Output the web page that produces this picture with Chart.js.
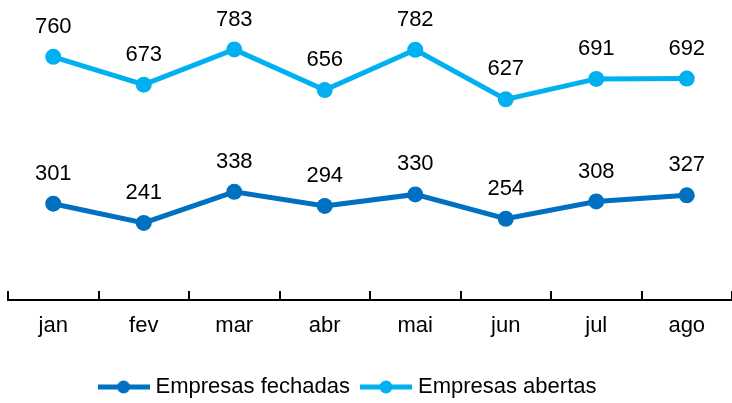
<!DOCTYPE html>
<html>
<head>
<meta charset="utf-8">
<script src="https://cdn.jsdelivr.net/npm/chart.js@4.4.1/dist/chart.umd.min.js"></script>
<style>
    html, body { margin: 0; padding: 0; background: #fff; overflow: hidden; }
    #wrap { position: relative; width: 740px; height: 403px; }
</style>
</head>
<body>
<div id="wrap"><canvas id="chart"></canvas></div>
<script>
const months = ['jan', 'fev', 'mar', 'abr', 'mai', 'jun', 'jul', 'ago'];
const fechadas = [301, 241, 338, 294, 330, 254, 308, 327];
const abertas = [760, 673, 783, 656, 782, 627, 691, 692];
const seriesNames = ['Empresas fechadas', 'Empresas abertas'];
const seriesColors = ['#0070C0', '#00B0F0'];
const yMin = 0;
const yMax = 900;

const FONT = '"Liberation Sans", Arial, sans-serif';

// small line + dot icon for the legend
function legendIcon(color) {
    const c = document.createElement('canvas');
    c.width = 52;
    c.height = 16;
    const g = c.getContext('2d');
    g.strokeStyle = color;
    g.lineWidth = 5;
    g.beginPath();
    g.moveTo(0, 8);
    g.lineTo(52, 8);
    g.stroke();
    g.fillStyle = color;
    g.beginPath();
    g.arc(26, 8, 6.5, 0, Math.PI * 2);
    g.fill();
    return c;
}
const icons = seriesColors.map(legendIcon);

// value labels above each point
const valueLabels = {
    id: 'valueLabels',
    afterDatasetsDraw(chart) {
        const ctx = chart.ctx;
        ctx.save();
        ctx.font = '22px ' + FONT;
        ctx.fillStyle = '#000';
        ctx.textAlign = 'center';
        ctx.textBaseline = 'middle';
        chart.data.datasets.forEach((ds, i) => {
            chart.getDatasetMeta(i).data.forEach((pt, j) => {
                ctx.fillText(String(ds.data[j]), pt.x, pt.y - 30);
            });
        });
        ctx.restore();
    }
};

// nudge the legend to sit where the original one is
const legendShift = {
    id: 'legendShift',
    afterLayout(chart) {
        const lg = chart.legend;
        if (lg) {
            lg.left -= 23;
            lg.right -= 23;
            lg.top += 11;
            lg.bottom += 11;
        }
    }
};

new Chart(document.getElementById('chart'), {
    type: 'line',
    data: {
        labels: months,
        datasets: [
            {
                label: seriesNames[0],
                data: fechadas,
                borderColor: seriesColors[0],
                backgroundColor: seriesColors[0],
                borderWidth: 5,
                pointRadius: 8,
                pointBorderWidth: 0,
                pointBackgroundColor: seriesColors[0],
                tension: 0
            },
            {
                label: seriesNames[1],
                data: abertas,
                borderColor: seriesColors[1],
                backgroundColor: seriesColors[1],
                borderWidth: 5,
                pointRadius: 8,
                pointBorderWidth: 0,
                pointBackgroundColor: seriesColors[1],
                tension: 0
            }
        ]
    },
    options: {
        responsive: true,
        maintainAspectRatio: false,
        animation: false,
        devicePixelRatio: 1,
        layout: { padding: { top: 12, left: 8, right: 3, bottom: 6 } },
        scales: {
            x: {
                offset: true,
                grid: {
                    offset: true,
                    drawOnChartArea: false,
                    drawTicks: true,
                    tickLength: -9,
                    color: '#000',
                    lineWidth: 2
                },
                border: { display: true, color: '#000', width: 2 },
                ticks: {
                    padding: 22,
                    color: '#000',
                    font: { family: FONT, size: 22 }
                },
                afterFit(scale) { scale.height = 50; }
            },
            y: {
                display: false,
                min: yMin,
                max: yMax
            }
        },
        plugins: {
            tooltip: { enabled: false },
            legend: {
                position: 'bottom',
                labels: {
                    usePointStyle: true,
                    pointStyleWidth: 42,
                    padding: 15,
                    color: '#000',
                    font: { family: FONT, size: 22 },
                    generateLabels(chart) {
                        return Chart.defaults.plugins.legend.labels.generateLabels(chart)
                            .map((l, i) => ({ ...l, pointStyle: icons[i] }));
                    }
                }
            }
        }
    },
    plugins: [valueLabels, legendShift]
});
</script>
</body>
</html>
